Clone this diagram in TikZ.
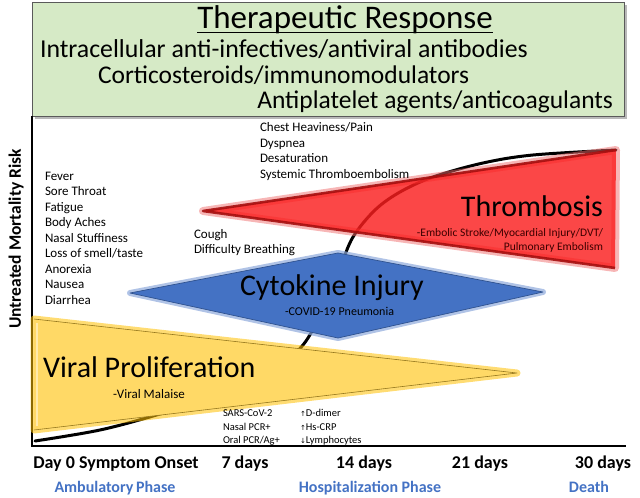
\documentclass[tikz,border=0pt]{standalone}
\usepackage{fontspec}
\usetikzlibrary{calc}
\setmainfont{Carlito}
\newfontfamily\dejavu{DejaVu Sans}
\newcommand\fsz[1]{\fontsize{#1}{#1}\selectfont}
\definecolor{gboxfill}{RGB}{214,234,198}
\definecolor{gboxline}{RGB}{90,90,90}
\definecolor{yelfill}{RGB}{255,217,102}
\definecolor{yelglow}{RGB}{255,192,0}
\definecolor{yelline}{RGB}{150,120,30}
\definecolor{bluefill}{RGB}{68,114,196}
\definecolor{blueglow}{RGB}{143,170,220}
\definecolor{blueline}{RGB}{47,82,143}
\definecolor{redfill}{RGB}{250,30,30}
\definecolor{redglow}{RGB}{240,110,110}
\definecolor{redband}{RGB}{165,15,15}
\definecolor{phaseblue}{RGB}{68,114,196}
\begin{document}
\begin{tikzpicture}[x=1pt,y=-1pt,
  every node/.style={inner sep=0pt, outer sep=0pt},
  lw/.style={anchor=base west},
  le/.style={anchor=base east},
  lc/.style={anchor=base},
  sym/.style={lw, font=\fsz{13}},
  lab/.style={lw, font=\fsz{10.5}},
  daylab/.style={lc, font=\fsz{18}\bfseries},
  phase/.style={lc, font=\fsz{16}\bfseries, text=phaseblue},
  glowline/.style={line join=round, line cap=round},
]
\useasboundingbox (0,0) rectangle (640,498);

% green therapeutic box
\fill[gray!55] (35,5) rectangle (627,119);
\draw[gboxline, fill=gboxfill, line width=0.8pt] (32,2) rectangle (624,116);

% axes
\draw[line width=2pt] (32,116) -- (32,446);
\draw[line width=2.5pt] (31,446) -- (626,446);

% mortality curve
\draw[line width=3pt, line cap=round] plot[smooth, tension=0.55] coordinates {
  (35,441) (100,430) (160,414) (220,395) (270,372) (303,345) (325,305)
  (340,268) (353,237) (375,210) (400,192) (433,177) (483,163) (533,155) (616,150)};

% viral proliferation triangle
\coordinate (yTL) at (34,319);
\coordinate (yBL) at (34,430);
\coordinate (yTip) at (517,373);
\draw[yelglow, opacity=0.55, line width=7pt, glowline] (yTL) -- (yTip) -- (yBL) -- cycle;
\fill[yelfill] (yTL) -- (yTip) -- (yBL) -- cycle;
\draw[yelline, line width=0.6pt, line join=round] (yTL) -- (yTip) -- (yBL);
\draw[white, opacity=0.45, line width=1.5pt] ($(yTL)+(3,4)$) -- ($(yBL)+(3,-4)$);

% cytokine injury diamond
\coordinate (bL) at (130,293);
\coordinate (bT) at (338,253);
\coordinate (bR) at (543,292);
\coordinate (bB) at (338,338);
\draw[blueglow, opacity=0.7, line width=6pt, glowline] (bL) -- (bT) -- (bR) -- (bB) -- cycle;
\fill[bluefill] (bL) -- (bT) -- (bR) -- (bB) -- cycle;
\draw[blueline, line width=0.7pt, line join=round] (bL) -- (bT) -- (bR) -- (bB) -- cycle;

% thrombosis triangle
\coordinate (rL) at (203,211);
\coordinate (rT) at (616,150);
\coordinate (rB) at (615,268);
\draw[redglow, opacity=0.5, line width=8pt, glowline] (rL) -- (rT) -- (rB) -- cycle;
\fill[redfill, opacity=0.82] (rL) -- (rT) -- (rB) -- cycle;
\draw[redband, line width=2.6pt, line join=round, opacity=0.9] (rT) -- (rL) -- (rB);

% therapeutic texts
\node[lc, font=\fsz{33}] (title) at (345,28) {Therapeutic Response};
\draw[line width=1.3pt] ([yshift=-4.5pt]title.base west) -- ([yshift=-4.5pt]title.base east);
\node[lw, font=\fsz{25.8}] (ther1) at (40,57) {Intracellular anti-infectives/antiviral antibodies};
\node[lw, font=\fsz{25.5}] (ther2) at (98,83) {Corticosteroids/immunomodulators};
\node[le, font=\fsz{25.5}] (ther3) at (613,108) {Antiplatelet agents/anticoagulants};

% y-axis label
\node[rotate=90, font=\fsz{17.5}\bfseries] (ylab) at (16,239) {Untreated Mortality Risk};

% symptom lists
\node[sym] (s1) at (45,180) {Fever};
\node[sym] (s2) at (45,195.5) {Sore Throat};
\node[sym] (s3) at (45,211) {Fatigue};
\node[sym] (s4) at (45,226.5) {Body Aches};
\node[sym] (s5) at (45,242) {Nasal Stuffiness};
\node[sym] (s6) at (45,257.5) {Loss of smell/taste};
\node[sym] (s7) at (45,273) {Anorexia};
\node[sym] (s8) at (45,288.5) {Nausea};
\node[sym] (s9) at (45,304) {Diarrhea};

\node[sym] (c1) at (260,131) {Chest Heaviness/Pain};
\node[sym] (c2) at (260,147) {Dyspnea};
\node[sym] (c3) at (260,162.5) {Desaturation};
\node[sym] (c4) at (260,178) {Systemic Thromboembolism};

\node[sym] (k1) at (194,238) {Cough};
\node[sym] (k2) at (194,253) {Difficulty Breathing};

% shape labels
\node[le, font=\fsz{30}] (thr) at (603,216) {Thrombosis};
\node[le, font=\fsz{11.5}, text={rgb,255:red,60;green,0;blue,0}] (thr1) at (603,236) {-Embolic Stroke/Myocardial Injury/DVT/};
\node[le, font=\fsz{11.5}, text={rgb,255:red,60;green,0;blue,0}] (thr2) at (603,250) {Pulmonary Embolism};

\node[lw, font=\fsz{30}] (cyt) at (240,295) {Cytokine Injury};
\node[lw, font=\fsz{12}] (cyt1) at (285,315) {-COVID-19 Pneumonia};

\node[lw, font=\fsz{30}] (vir) at (43,377) {Viral Proliferation};
\node[lw, font=\fsz{13}] (vir1) at (113,398) {-Viral Malaise};

% lab findings
\node[lab] (l1) at (223,416.5) {SARS-CoV-2};
\node[lab] (l2) at (223,430) {Nasal PCR+};
\node[lab] (l3) at (223,443) {Oral PCR/Ag+};
\node[lab] (m1) at (300,416.5) {{\dejavu\fsz{7}↑}D-dimer};
\node[lab] (m2) at (300,430) {{\dejavu\fsz{7}↑}Hs-CRP};
\node[lab] (m3) at (300,443) {{\dejavu\fsz{7}↓}Lymphocytes};

% time axis labels
\node[daylab] (d0) at (116,468) {Day 0 Symptom Onset};
\node[daylab] (d7) at (245,468) {7 days};
\node[daylab] (d14) at (364,468) {14 days};
\node[daylab] (d21) at (480,468) {21 days};
\node[daylab] (d30) at (603,468) {30 days};

\node[phase] (p1) at (115,492) {Ambulatory\,Phase};
\node[phase] (p2) at (370,492) {Hospitalization Phase};
\node[phase] (p3) at (589,492) {Death};
\end{tikzpicture}
\end{document}
